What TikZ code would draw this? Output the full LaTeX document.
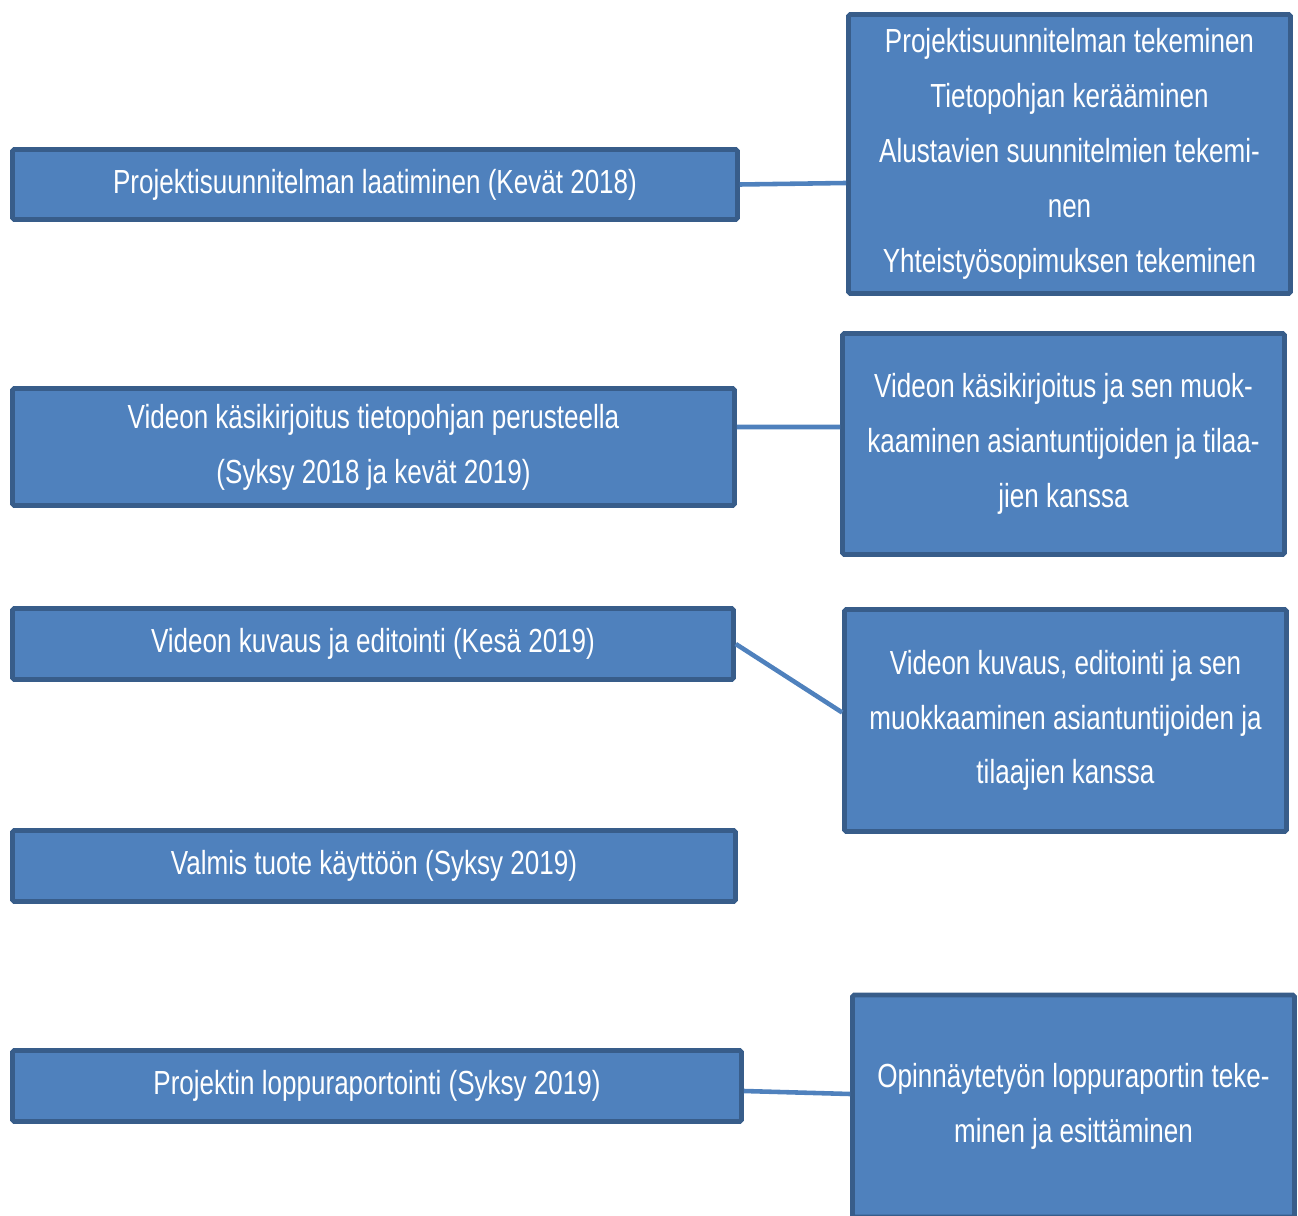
\documentclass[tikz,border=0pt]{standalone}
\usepackage{fontspec}
\setmainfont[FakeStretch=0.78]{Liberation Sans}
\definecolor{boxfill}{HTML}{4F81BD}
\definecolor{boxline}{HTML}{385D8A}
\begin{document}
\begin{tikzpicture}[x=0.02cm, y=-0.02cm,
  phase/.style={draw=boxline, line width=2.7pt, fill=boxfill, text=white, rounded corners=1pt,
    align=center, inner sep=0pt, font=\fontsize{19}{31.2}\selectfont},
  task/.style={phase, minimum width=8.84cm},
  link/.style={draw=boxfill, line width=2.6pt}]
\useasboundingbox (0,0) rectangle (1298,1216);

% phases on the left
\node[phase, minimum width=14.50cm, minimum height=1.40cm] (plan) at (375,184.5) {Projektisuunnitelman laatiminen (Kevät 2018)};
\node[phase, minimum width=14.44cm, minimum height=2.34cm] (script) at (373.5,447) {Videon käsikirjoitus tietopohjan perusteella\\(Syksy 2018 ja kevät 2019)};
\node[phase, minimum width=14.42cm, minimum height=1.42cm] (shoot) at (373,644) {Videon kuvaus ja editointi (Kesä 2019)};
\node[phase, minimum width=14.46cm, minimum height=1.42cm] (ready) at (374,866) {Valmis tuote käyttöön (Syksy 2019)};
\node[phase, minimum width=14.58cm, minimum height=1.42cm] (report) at (377,1086) {Projektin loppuraportointi (Syksy 2019)};

% tasks on the right
\node[task, minimum height=5.58cm] (plantasks) at (1069.5,154) {Projektisuunnitelman tekeminen\\Tietopohjan kerääminen\\Alustavien suunnitelmien tekemi-\\nen\\Yhteistyösopimuksen tekeminen};
\node[task, minimum height=4.42cm] (scripttasks) at (1063.5,444) {Videon käsikirjoitus ja sen muok-\\kaaminen asiantuntijoiden ja tilaa-\\jien kanssa};
\node[task, minimum height=4.44cm] (shoottasks) at (1065.5,720.5) {Videon kuvaus, editointi ja sen\\muokkaaminen asiantuntijoiden ja\\tilaajien kanssa};
\node[task, minimum height=4.44cm] (reporttasks) at (1073.5,1106) {Opinnäytetyön loppuraportin teke-\\minen ja esittäminen};

\draw[link] (plan.east) -- ([yshift=-0.58cm]plantasks.west);
\draw[link] ([yshift=0.4cm]script.east) -- ([yshift=0.34cm]scripttasks.west);
\draw[link] (shoot.east) -- ([yshift=0.16cm]shoottasks.west);
\draw[link] ([yshift=-0.1cm]report.east) -- ([yshift=0.24cm]reporttasks.west);
\end{tikzpicture}
\end{document}
